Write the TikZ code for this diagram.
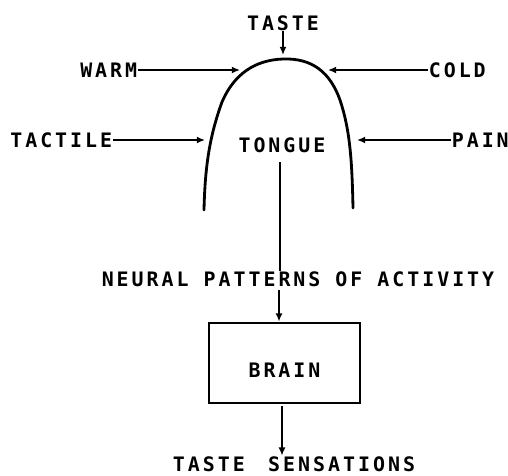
\documentclass[tikz,border=0pt]{standalone}
\usepackage{fontspec}
\newfontfamily\letterfont[LetterSpace=15]{DejaVu Sans Mono}
\usetikzlibrary{arrows.meta}

\tikzset{
	lettering/.style={font=\letterfont\bfseries\fontsize{17}{20}\selectfont, inner sep=0.5pt},
	feed/.style={line width=1.8pt, -{Latex[length=7pt,width=6pt]}},
	wire/.style={line width=1.8pt},
}

\begin{document}
\begin{tikzpicture}[x=0.03cm,y=-0.03cm]
		
		% frame of the page
		\useasboundingbox (0,0) rectangle (508,475);
		
		% Tongue outline
		\draw[line width=2.4pt,line cap=round]
		(204,210) .. controls (205,165) and (210,135) .. (222,102)
		.. controls (234,74) and (255,60) .. (283,59)
		.. controls (312,58) and (330,72) .. (340,100)
		.. controls (350,130) and (352,160) .. (353,208);
		\node[lettering] (tongue) at (282,145) {TONGUE};
		
		% Senses feeding the tongue
		\coordinate (tasteTip) at (283,55);
		\coordinate (warmTip) at (240,70);
		\coordinate (coldTip) at (328,70);
		\coordinate (tactileTip) at (205,140);
		\coordinate (painTip) at (357,140);
		
		\node[lettering] (taste) at (283,23) {TASTE};
		\node[lettering,anchor=east] (warm) at (138,70) {WARM};
		\node[lettering,anchor=west] (cold) at (428,70) {COLD};
		\node[lettering,anchor=east] (tactile) at (113,140) {TACTILE};
		\node[lettering,anchor=west] (pain) at (451,140) {PAIN};
		
		\draw[feed] (taste.south) -- (tasteTip);
		\draw[feed] (warm.east) -- (warmTip);
		\draw[feed] (cold.west) -- (coldTip);
		\draw[feed] (tactile.east) -- (tactileTip);
		\draw[feed] (pain.west) -- (painTip);
		
		% Signal to the brain
		\node[lettering] (neural) at (298,279) {NEURAL PATTERNS OF ACTIVITY};
		\node[lettering,draw,line width=2.4pt,minimum width=4.53cm,minimum height=2.4cm,
		text height=0.84cm,text depth=0pt] (brain) at (284.5,363) {BRAIN};
		\node[lettering] (sensations) at (294,464) {TASTE\hspace{0.7cm}SENSATIONS};
		
		\coordinate (nerveTop) at (280,162);
		\coordinate (nerveLow) at (279,290);
		\coordinate (senseTop) at (282,406);
		\draw[wire] (nerveTop) -- (nerveTop |- neural.north);
		\draw[feed] (nerveLow) -- (nerveLow |- brain.north);
		\draw[feed] (senseTop) -- (senseTop |- sensations.north);
		
	\end{tikzpicture}
\end{document}
